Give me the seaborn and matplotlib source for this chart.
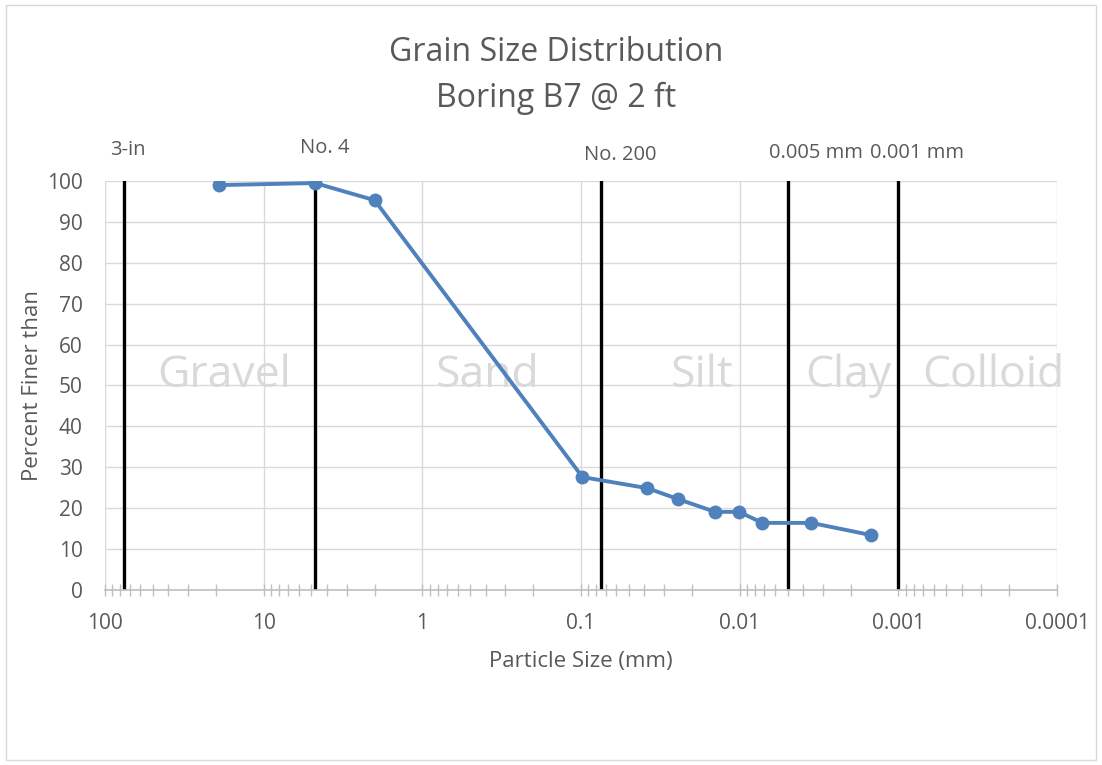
import matplotlib
matplotlib.use("Agg")
import numpy as np
import pandas as pd
import matplotlib.pyplot as plt
import seaborn as sns
from matplotlib.ticker import FixedLocator, NullFormatter
from matplotlib.patches import Rectangle

# grain size data (mm vs percent finer)
size_mm = [19.0, 4.75, 2.0, 0.098, 0.0383, 0.0244, 0.0143, 0.0101, 0.0072, 0.00354, 0.00148]
pct_finer = [99.0, 99.5, 95.3, 27.6, 24.9, 22.2, 19.1, 19.1, 16.4, 16.4, 13.4]

# boundary lines
bound_mm = [76.2, 4.75, 0.075, 0.005, 0.001]
bound_lbl = ["3-in", "No. 4", "No. 200", "0.005 mm", "0.001 mm"]

# soil class labels
zone_lbl = ["Gravel", "Sand", "Silt", "Clay", "Colloid"]
zone_x = [17.8, 0.39, 0.0172, 0.00207, 0.000252]

xticks = [100, 10, 1, 0.1, 0.01, 0.001, 0.0001]
xtick_lbl = ["100", "10", "1", "0.1", "0.01", "0.001", "0.0001"]

sns.set_style("white")
plt.rcParams['font.family'] = ['Open Sans', 'DejaVu Sans']

GREY_TXT = "#595959"
BLUE = "#4F81BD"

df = pd.DataFrame({"size": size_mm, "pct": pct_finer})

fig = plt.figure(figsize=(11.02, 7.65), dpi=100)
ax = fig.add_axes([0.0953, 0.2288, 0.8640, 0.5346])

# faint zone names behind everything
for lbl, x in zip(zone_lbl, zone_x):
    ax.text(x, 52.5, lbl, ha="center", va="center", fontsize=32,
            color="#D9D9D9", zorder=0.5)

for x in bound_mm:
    ax.axvline(x, color="black", lw=2.4, zorder=2)

sns.lineplot(data=df, x="size", y="pct", sort=False, ax=ax, color=BLUE,
             lw=2.8, marker="o", markersize=10, markeredgewidth=0, zorder=3)

ax.set_xscale("log")
ax.set_xlim(100, 0.0001)
ax.set_ylim(0, 100)

ax.xaxis.set_major_locator(FixedLocator(xticks))
ax.set_xticklabels(xtick_lbl)
minors = [m * 10.0 ** e for e in range(-4, 2) for m in range(2, 10)]
ax.xaxis.set_minor_locator(FixedLocator(minors))
ax.xaxis.set_minor_formatter(NullFormatter())
ax.set_yticks(range(0, 101, 10))

ax.grid(True, which="major", color="#D9D9D9", lw=1.0, zorder=0)
ax.set_axisbelow(True)
for s in ["top", "right", "left"]:
    ax.spines[s].set_visible(False)
ax.spines["bottom"].set_color("#BFBFBF")
ax.spines["bottom"].set_linewidth(1.2)

ax.tick_params(axis="x", which="both", bottom=True, direction="inout", length=9,
               width=1.0, color="#BFBFBF", labelsize=15, labelcolor=GREY_TXT, pad=12)
ax.tick_params(axis="y", left=False, length=0, labelsize=15, labelcolor=GREY_TXT, pad=16)

ax.set_xlabel("Particle Size (mm)", fontsize=16, color=GREY_TXT, labelpad=12)
ax.set_ylabel("Percent Finer than", fontsize=16, color=GREY_TXT, labelpad=3)

# boundary labels above the plot (offset in pixels from the top of each line)
lbl_off = [(-14, 31), (-15, 33), (-17, 26), (-19, 28), (-28, 28)]
for x, lbl, off in zip(bound_mm, bound_lbl, lbl_off):
    ax.annotate(lbl, xy=(x, 100), xytext=off, textcoords="offset pixels",
                ha="left", va="center", fontsize=14.5, color=GREY_TXT,
                annotation_clip=False)

fig.text(0.505, 0.931, "Grain Size Distribution", ha="center", va="center",
         fontsize=23, color=GREY_TXT)
fig.text(0.505, 0.871, "Boring B7 @ 2 ft", ha="center", va="center",
         fontsize=23, color=GREY_TXT)

fig.patches.append(Rectangle((0.005, 0.006), 0.99, 0.988, transform=fig.transFigure,
                             fill=False, edgecolor="#D9D9D9", lw=1.0))

fig.savefig("out.png", dpi=100, facecolor="white")
